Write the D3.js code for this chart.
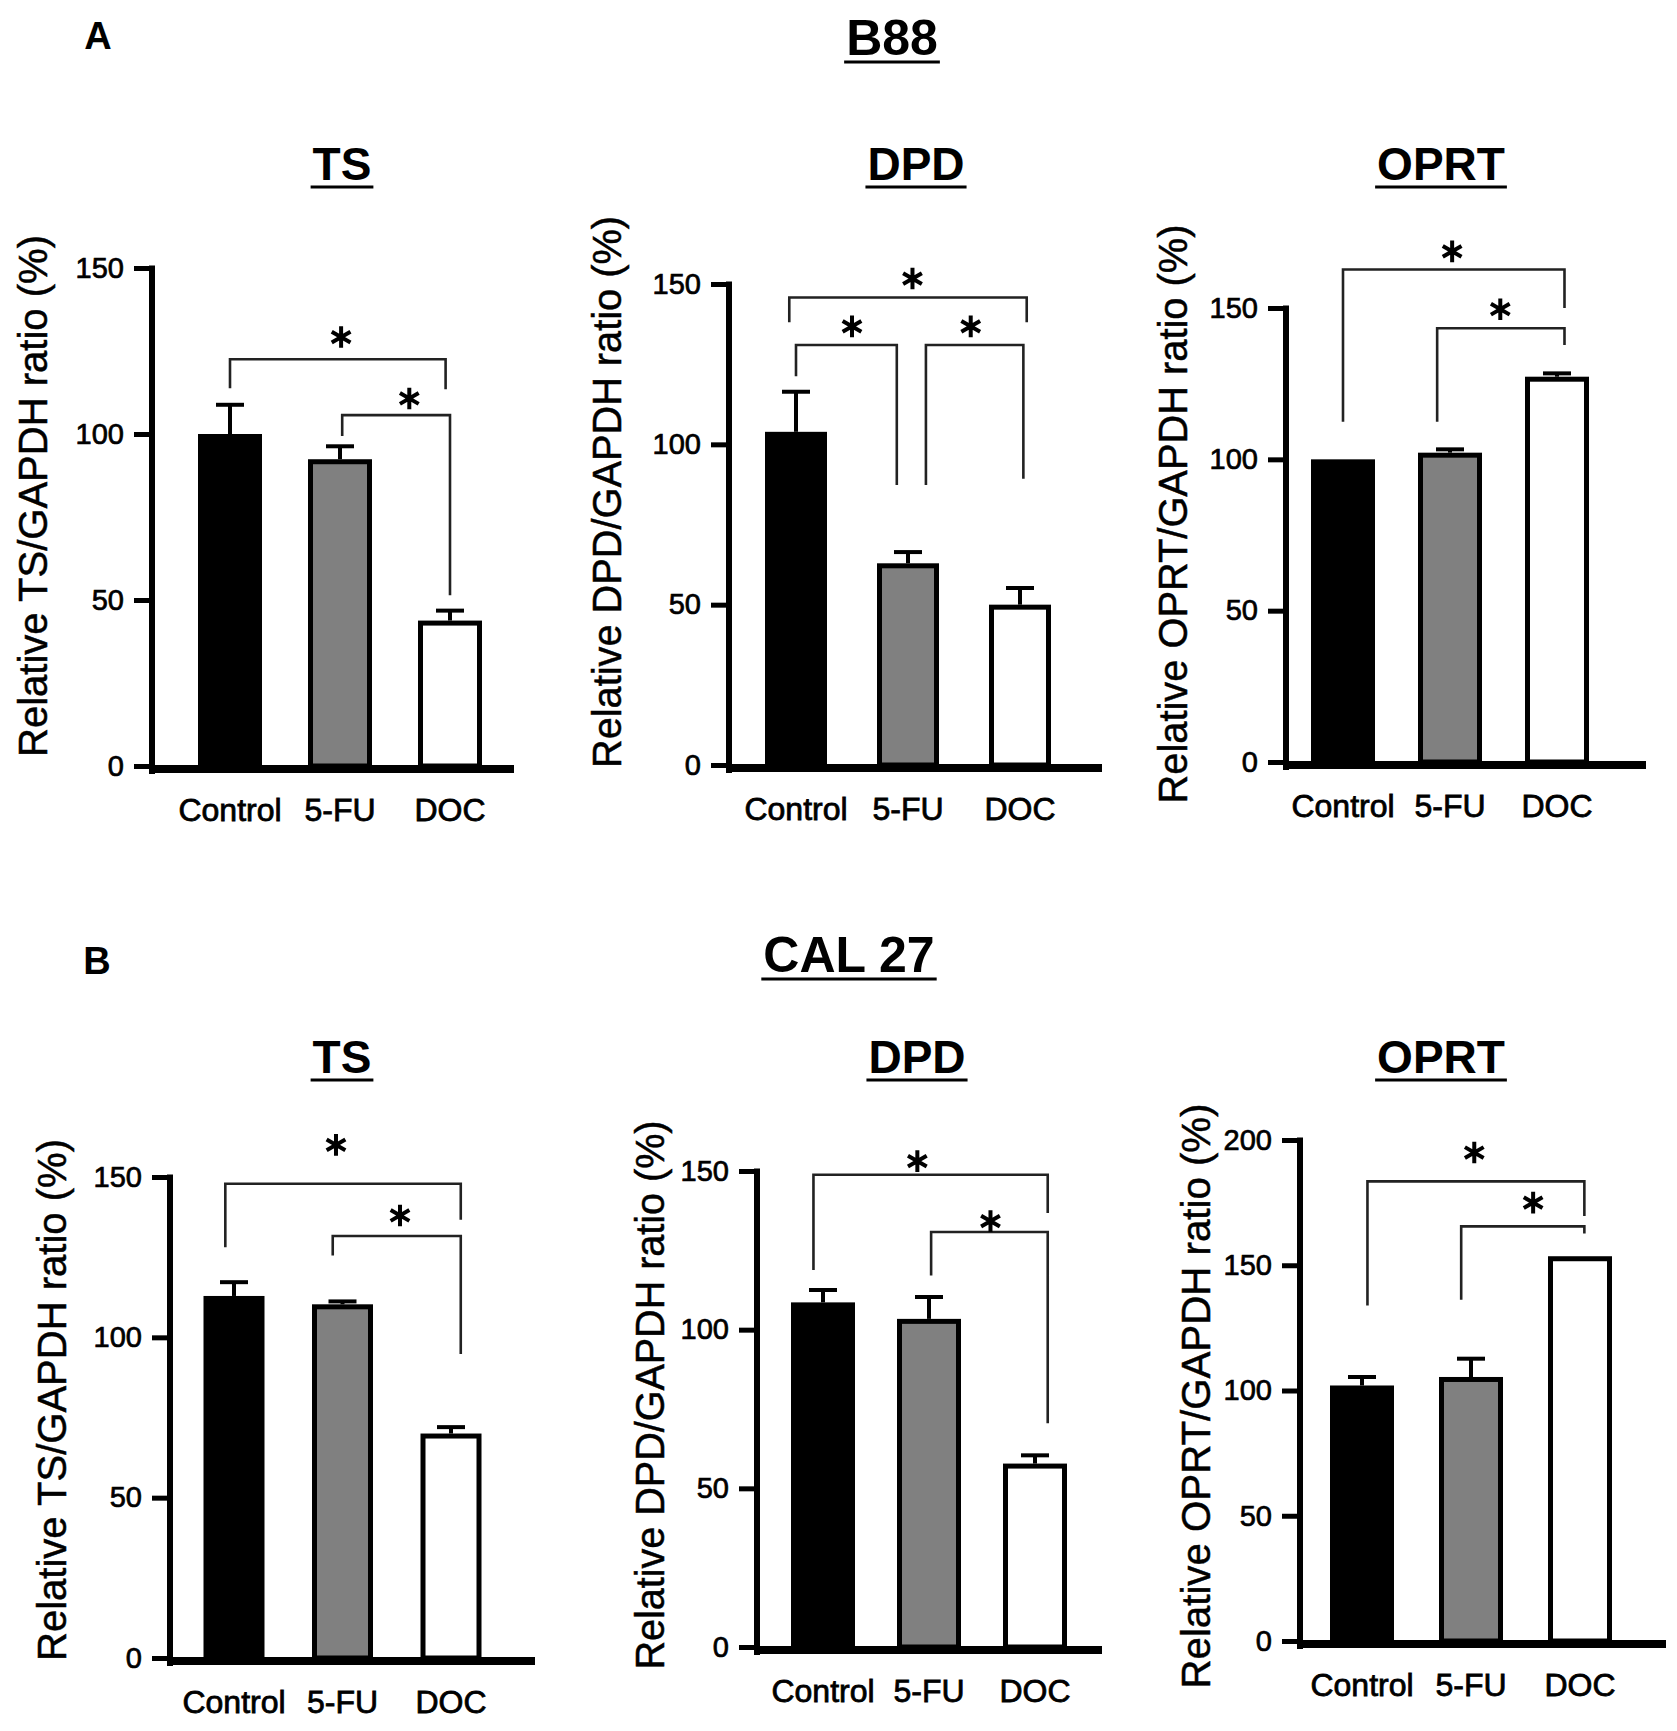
<!DOCTYPE html>
<html>
<head>
<meta charset="utf-8">
<script src="https://cdn.jsdelivr.net/npm/d3@7"></script>
<style>
  body { margin: 0; background: #fff; }
  text { font-family: 'Liberation Sans', Arial, sans-serif; }
</style>
</head>
<body>
<svg id="fig" width="1677" height="1731"></svg>
<script>
const categories = ['Control', '5-FU', 'DOC']
const barFills = ['#000000', '#808080', '#ffffff']

// B88
const b88TsMeans = [100, 92.4, 43.8]
const b88TsErrors = [8.8, 3.9, 3]
const b88DpdMeans = [103.9, 62.9, 50]
const b88DpdErrors = [12.5, 3.5, 5.2]
const b88OprtMeans = [100, 102.2, 127.3]
const b88OprtErrors = [0, 1.1, 1.1]

// CAL 27
const cal27TsMeans = [112.9, 110.3, 70]
const cal27TsErrors = [4.3, 0.9, 2]
const cal27DpdMeans = [108.6, 103.4, 57.8]
const cal27DpdErrors = [3.9, 6.9, 2.6]
const cal27OprtMeans = [102, 105.4, 153.6]
const cal27OprtErrors = [3.4, 7.3, 0]

const yTicks150 = [0, 50, 100, 150]
const yTicks200 = [0, 50, 100, 150, 200]

// brackets: [from, to, top, leftEnd, rightEnd] in category index / value units
// stars: [category index, value]
const b88TsBrackets = [[0, 1.96, 122.5, 113.8, 113.5], [1.02, 2, 105.7, 99.4, 51.4]]
const b88TsStars = [[1.01, 129.2], [1.63, 110.7]]
const b88DpdBrackets = [[-0.06, 2.06, 145.8, 138.1, 138.1], [0, 0.9, 131, 121.2, 87.3], [1.16, 2.03, 131, 87.3, 89.3]]
const b88DpdStars = [[1.04, 151.7], [0.5, 136.8], [1.56, 136.8]]
const b88OprtBrackets = [[0, 2.07, 162.7, 112.4, 150], [0.88, 2.07, 143.3, 112.4, 137.8]]
const b88OprtStars = [[1.02, 168.7], [1.47, 149.6]]

const cal27TsBrackets = [[-0.08, 2.09, 147.9, 128.1, 136.7], [0.91, 2.09, 131.6, 125.5, 94.8]]
const cal27TsStars = [[0.94, 160], [1.53, 138]]
const cal27DpdBrackets = [[-0.09, 2.12, 148.8, 118.8, 136.8], [1.02, 2.12, 130.8, 117.1, 70.5]]
const cal27DpdStars = [[0.89, 153.1], [1.58, 134.2]]
const cal27OprtBrackets = [[0.05, 2.04, 183.5, 133.9, 169.7], [0.91, 2.04, 165.5, 136.2, 162.7]]
const cal27OprtStars = [[1.03, 195], [1.57, 175]]

const panels = [
  {title: 'TS', label: 'Relative TS/GAPDH ratio (%)', means: b88TsMeans, errors: b88TsErrors, ticks: yTicks150,
    brackets: b88TsBrackets, stars: b88TsStars,
    axisX: 152, y0: 766, yTop: 268, xEnd: 514, c0: 230, step: 110, barW: 64,
    titleX: 342, titleY: 180, labelX: 47, labelY: 496, labelLen: 522},
  {title: 'DPD', label: 'Relative DPD/GAPDH ratio (%)', means: b88DpdMeans, errors: b88DpdErrors, ticks: yTicks150,
    brackets: b88DpdBrackets, stars: b88DpdStars,
    axisX: 729, y0: 765, yTop: 284, xEnd: 1102, c0: 796, step: 112, barW: 62,
    titleX: 916, titleY: 180, labelX: 621, labelY: 492, labelLen: 552},
  {title: 'OPRT', label: 'Relative OPRT/GAPDH ratio (%)', means: b88OprtMeans, errors: b88OprtErrors, ticks: yTicks150,
    brackets: b88OprtBrackets, stars: b88OprtStars,
    axisX: 1286, y0: 762, yTop: 308, xEnd: 1646, c0: 1343, step: 107, barW: 64,
    titleX: 1441, titleY: 180, labelX: 1187, labelY: 514, labelLen: 579},
  {title: 'TS', label: 'Relative TS/GAPDH ratio (%)', means: cal27TsMeans, errors: cal27TsErrors, ticks: yTicks150,
    brackets: cal27TsBrackets, stars: cal27TsStars,
    axisX: 170, y0: 1658, yTop: 1177, xEnd: 535, c0: 234, step: 108.5, barW: 61,
    titleX: 342, titleY: 1073, labelX: 66, labelY: 1400, labelLen: 522},
  {title: 'DPD', label: 'Relative DPD/GAPDH ratio (%)', means: cal27DpdMeans, errors: cal27DpdErrors, ticks: yTicks150,
    brackets: cal27DpdBrackets, stars: cal27DpdStars,
    axisX: 757, y0: 1647, yTop: 1171, xEnd: 1102, c0: 823, step: 106, barW: 64,
    titleX: 917, titleY: 1073, labelX: 664, labelY: 1395, labelLen: 549},
  {title: 'OPRT', label: 'Relative OPRT/GAPDH ratio (%)', means: cal27OprtMeans, errors: cal27OprtErrors, ticks: yTicks200,
    brackets: cal27OprtBrackets, stars: cal27OprtStars,
    axisX: 1300, y0: 1641, yTop: 1140, xEnd: 1666, c0: 1362, step: 109, barW: 64,
    titleX: 1441, titleY: 1073, labelX: 1210, labelY: 1396, labelLen: 585}
]

const svg = d3.select('#fig')

function underlinedTitle (x, y, text, size) {
  const t = svg.append('text')
    .attr('x', x)
    .attr('y', y)
    .attr('text-anchor', 'middle')
    .attr('font-weight', 'bold')
    .attr('font-size', size)
    .text(text)
  const w = t.node().getComputedTextLength()
  svg.append('line')
    .attr('x1', x - w / 2 - 2)
    .attr('x2', x + w / 2 + 2)
    .attr('y1', y + 7)
    .attr('y2', y + 7)
    .attr('stroke', '#000')
    .attr('stroke-width', 3)
}

function drawPanel (p) {
  const yMax = d3.max(p.ticks)
  const y = d3.scaleLinear().domain([0, yMax]).range([p.y0, p.yTop])
  const pad = 1 - p.barW / p.step
  const x = d3.scaleBand()
    .domain(categories)
    .range([p.c0 - p.step / 2, p.c0 + 2.5 * p.step])
    .paddingInner(pad)
    .paddingOuter(pad / 2)
  const xc = (pos) => x(categories[0]) + x.bandwidth() / 2 + pos * x.step()

  const g = svg.append('g')

  // bars
  g.selectAll('rect')
    .data(p.means)
    .join('rect')
    .attr('x', (d, i) => x(categories[i]) + 2.5)
    .attr('y', d => y(d) + 2.5)
    .attr('width', x.bandwidth() - 5)
    .attr('height', d => p.y0 - y(d) - 2.5)
    .attr('fill', (d, i) => barFills[i])
    .attr('stroke', '#000')
    .attr('stroke-width', 5)

  // error bars
  const errs = p.means.map((m, i) => ({m, e: p.errors[i], c: categories[i]})).filter(d => d.e > 0)
  g.selectAll('.stem')
    .data(errs)
    .join('line')
    .attr('class', 'stem')
    .attr('x1', d => x(d.c) + x.bandwidth() / 2)
    .attr('x2', d => x(d.c) + x.bandwidth() / 2)
    .attr('y1', d => y(d.m))
    .attr('y2', d => y(d.m + d.e))
    .attr('stroke', '#000')
    .attr('stroke-width', 4)
  g.selectAll('.cap')
    .data(errs)
    .join('line')
    .attr('class', 'cap')
    .attr('x1', d => x(d.c) + x.bandwidth() / 2 - 14)
    .attr('x2', d => x(d.c) + x.bandwidth() / 2 + 14)
    .attr('y1', d => y(d.m + d.e))
    .attr('y2', d => y(d.m + d.e))
    .attr('stroke', '#000')
    .attr('stroke-width', 4)

  // y axis
  const yAxis = g.append('g')
    .attr('transform', `translate(${p.axisX},0)`)
    .call(d3.axisLeft(y).tickValues(p.ticks).tickSize(18).tickSizeOuter(0).tickPadding(10))
  yAxis.select('.domain').remove()
  yAxis.selectAll('line').attr('stroke', '#000').attr('stroke-width', 5)
  yAxis.selectAll('text')
    .attr('font-size', 29)
    .attr('fill', '#000')
    .attr('stroke', '#000')
    .attr('stroke-width', 0.7)
  g.append('line')
    .attr('x1', p.axisX)
    .attr('x2', p.axisX)
    .attr('y1', y(yMax) - 2.5)
    .attr('y2', p.y0 + 8)
    .attr('stroke', '#000')
    .attr('stroke-width', 6)

  // x axis
  g.append('line')
    .attr('x1', p.axisX - 3)
    .attr('x2', p.xEnd)
    .attr('y1', p.y0 + 3)
    .attr('y2', p.y0 + 3)
    .attr('stroke', '#000')
    .attr('stroke-width', 8)
  const xAxis = g.append('g')
    .attr('transform', `translate(0,${p.y0})`)
    .call(d3.axisBottom(x).tickSize(0).tickPadding(32))
  xAxis.select('.domain').remove()
  xAxis.selectAll('text')
    .attr('font-size', 32)
    .attr('fill', '#000')
    .attr('stroke', '#000')
    .attr('stroke-width', 0.8)

  // significance brackets
  g.selectAll('.bracket')
    .data(p.brackets)
    .join('path')
    .attr('class', 'bracket')
    .attr('d', b => `M${xc(b[0])},${y(b[3])}V${y(b[2])}H${xc(b[1])}V${y(b[4])}`)
    .attr('fill', 'none')
    .attr('stroke', '#222')
    .attr('stroke-width', 2.6)

  g.selectAll('.star')
    .data(p.stars)
    .join('path')
    .attr('class', 'star')
    .attr('transform', s => `translate(${xc(s[0])},${y(s[1])})`)
    .attr('d', d3.symbol(d3.symbolAsterisk, 330))
    .attr('fill', 'none')
    .attr('stroke', '#000')
    .attr('stroke-width', 4)

  // y label
  g.append('text')
    .attr('transform', `translate(${p.labelX},${p.labelY}) rotate(-90)`)
    .attr('text-anchor', 'middle')
    .attr('font-size', 40)
    .attr('textLength', p.labelLen)
    .attr('lengthAdjust', 'spacingAndGlyphs')
    .attr('stroke', '#000')
    .attr('stroke-width', 0.5)
    .text(p.label)

  underlinedTitle(p.titleX, p.titleY, p.title, 46)
}

panels.forEach(drawPanel)

underlinedTitle(892, 55, 'B88', 50)
underlinedTitle(849, 972, 'CAL 27', 50)

svg.append('text').attr('x', 98).attr('y', 49)
  .attr('text-anchor', 'middle').attr('font-weight', 'bold').attr('font-size', 38).text('A')
svg.append('text').attr('x', 97).attr('y', 974)
  .attr('text-anchor', 'middle').attr('font-weight', 'bold').attr('font-size', 38).text('B')
</script>
</body>
</html>
